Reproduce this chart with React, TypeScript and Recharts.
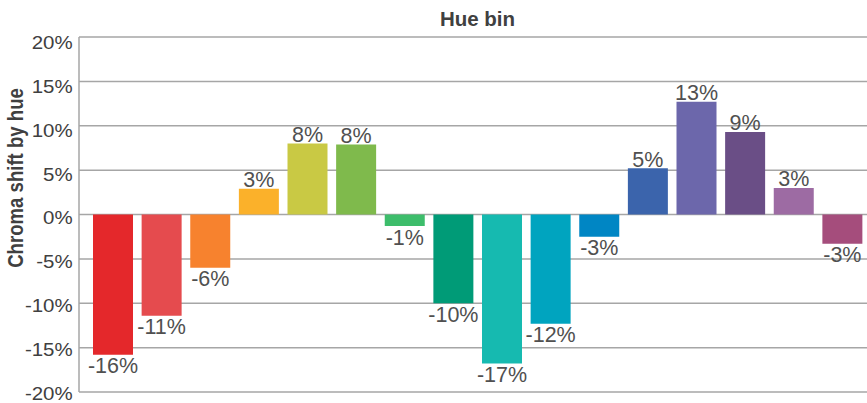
import React from 'react';
import { BarChart, Bar, XAxis, YAxis, CartesianGrid, Cell, LabelList } from 'recharts';

const hueBins = [
  'Red', 'Red 2', 'Orange', 'Yellow-orange', 'Yellow', 'Yellow-green', 'Green', 'Teal',
  'Turquoise', 'Cyan', 'Azure', 'Blue', 'Indigo', 'Violet', 'Purple', 'Magenta',
];
const chromaShift = [-15.8, -11.4, -6.0, 2.9, 8.0, 7.9, -1.3, -10.0, -16.8, -12.3, -2.5, 5.2, 12.7, 9.3, 3.0, -3.3];
const barColors = [
  '#E4282B', '#E54B4E', '#F7822E', '#FBB12A', '#C9C944', '#7FBA4C', '#3DBD6B', '#009B77',
  '#16BAB0', '#00A4BF', '#0086C4', '#3B64AC', '#6C67AB', '#6A4E86', '#9D6BA3', '#A54D7C',
];
const yTicks = [-20, -15, -10, -5, 0, 5, 10, 15, 20];

const data = hueBins.map((bin, i) => ({ bin, shift: chromaShift[i] }));

const FONT = '"Liberation Sans", Arial, Helvetica, sans-serif';

const PLOT_TOP = 37;
const PLOT_H = 355;

const fmtPct = (v: number) => {
  const r = Math.sign(v) * Math.round(Math.abs(v));
  return `${r === 0 ? 0 : r}%`;
};

const YTick = (props: any) => {
  const { x, y, payload } = props;
  const frac = Math.min(1, Math.max(0, (y - PLOT_TOP) / PLOT_H));
  const dy = 6.7 + 5.5 - 4.5 * frac;
  return (
    <text
      transform={`translate(${x - 6.3},${y + dy}) scale(1.09,1)`}
      textAnchor="end"
      fontSize={18.8}
      fontFamily={FONT}
      fill="#404040"
    >
      {`${payload.value}%`}
    </text>
  );
};

const BarLabel = (props: any) => {
  const { x, y, width, height, value } = props;
  const top = Math.min(y, y + height);
  const bottom = Math.max(y, y + height);
  const cx = x + width / 2;
  const neg = value < 0;
  return (
    <text
      x={cx}
      y={neg ? bottom + 18.5 : top - 1.5}
      textAnchor="middle"
      fontSize={21.5}
      fontFamily={FONT}
      fill="#505050"
    >
      {fmtPct(value)}
    </text>
  );
};

export default function App() {
  return (
    <div style={{ position: 'absolute', left: 0, top: 0, width: 867, height: 403, background: '#fff' }}>
      <BarChart
        width={867}
        height={403}
        data={data}
        margin={{ top: PLOT_TOP, right: 0, bottom: 11, left: 0 }}
        barSize={40}
      >
        <CartesianGrid vertical={false} stroke="#a6a6a6" strokeWidth={1.5} />
        <XAxis dataKey="bin" hide padding={{ left: 10, right: 0 }} />
        <YAxis
          width={79}
          domain={[-20, 20]}
          ticks={yTicks}
          interval={0}
          tickSize={0}
          tickMargin={0}
          tickLine={false}
          axisLine={{ stroke: '#a6a6a6', strokeWidth: 1.5 }}
          tick={<YTick />}
        />
        <Bar dataKey="shift" isAnimationActive={false}>
          {data.map((d, i) => (
            <Cell key={d.bin} fill={barColors[i]} />
          ))}
          <LabelList dataKey="shift" content={<BarLabel />} />
        </Bar>
      </BarChart>
      <svg
        width={867}
        height={403}
        style={{ position: 'absolute', left: 0, top: 0, pointerEvents: 'none' }}
      >
        <text
          x={477.5}
          y={25.7}
          textAnchor="middle"
          fontSize={20.5}
          fontWeight="bold"
          fontFamily={FONT}
          fill="#404040"
        >
          Hue bin
        </text>
        <text
          transform="translate(23.3,178) scale(1.15,1) rotate(-90)"
          textAnchor="middle"
          fontSize={18.6}
          fontWeight="bold"
          fontFamily={FONT}
          fill="#404040"
        >
          Chroma shift by hue
        </text>
      </svg>
    </div>
  );
}
